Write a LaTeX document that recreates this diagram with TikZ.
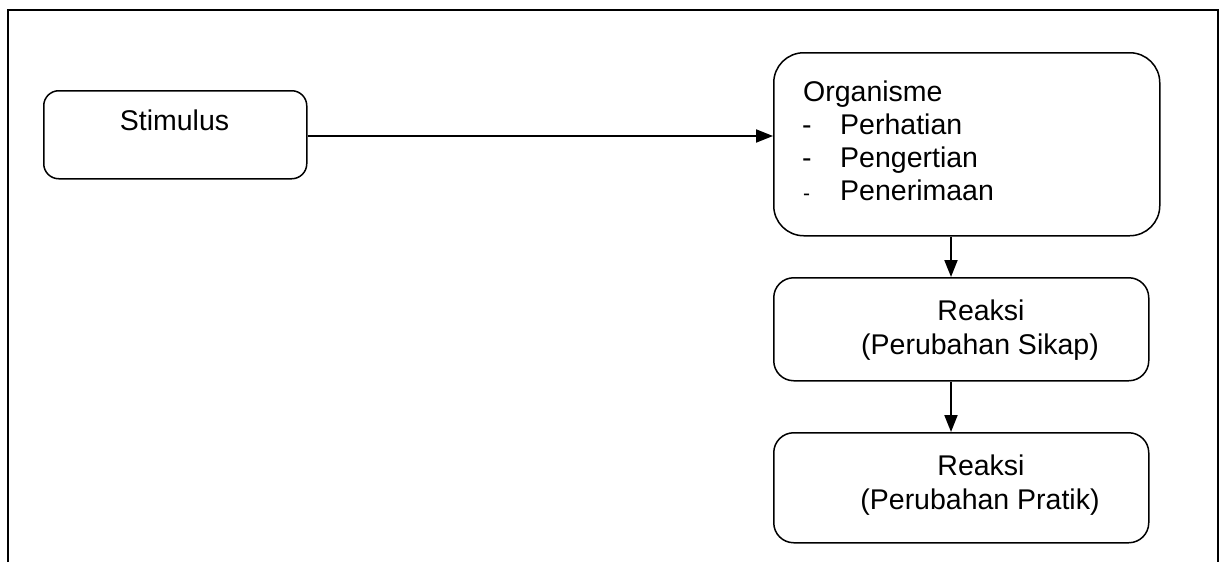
\documentclass[tikz,border=0pt]{standalone}
\usepackage{fontspec}
\setmainfont{Liberation Sans}
\usetikzlibrary{arrows.meta}
\begin{document}
\begin{tikzpicture}[x=1pt,y=-1pt,
  box/.style={draw=black, line width=1.5pt, rounded corners=#1, inner sep=0pt, anchor=north west},
  box/.default=15pt,
  txt/.style={inner sep=0pt, font=\fontsize{28.5}{33}\selectfont},
  conn/.style={line width=2pt, -{Triangle[length=17pt,width=13pt]}}]
\useasboundingbox (0,0) rectangle (1225,562);
% outer frame (open at the bottom)
\draw[line width=2pt] (8,562) -- (8,10) -- (1218,10) -- (1218,562);
% boxes
\node[box=15pt, minimum width=263pt, minimum height=88pt] (stim) at (43,90) {};
\node[box=30pt, minimum width=386pt, minimum height=183pt] (org) at (773,52) {};
\node[box=20pt, minimum width=375pt, minimum height=103pt] (rs) at (773,277) {};
\node[box=20pt, minimum width=375pt, minimum height=110pt] (rp) at (773,432) {};
% texts
\node[txt, anchor=base] (tstim) at (174.5,130) {Stimulus};
\node[txt, anchor=base west] (torg) at (803,101) {Organisme};
\node[txt, anchor=base west] (d1) at (802,134) {-};
\node[txt, anchor=base west] (t1) at (840,134) {Perhatian};
\node[txt, anchor=base west] (d2) at (802,167) {-};
\node[txt, anchor=base west] (t2) at (840,167) {Pengertian};
\node[txt, anchor=base west, font=\fontsize{21}{25}\selectfont] (d3) at (803,200) {-};
\node[txt, anchor=base west] (t3) at (840,200) {Penerimaan};
\node[txt, anchor=base] (rs1) at (981,320) {Reaksi};
\node[txt, anchor=base] (rs2) at (980,354) {(Perubahan Sikap)};
\node[txt, anchor=base] (rp1) at (981,475) {Reaksi};
\node[txt, anchor=base] (rp2) at (980,509) {(Perubahan Pratik)};
% connectors
\draw[conn] (stim.east |- 0,136) -- (org.west |- 0,136);
\draw[conn] (org.south -| 951,0) -- (rs.north -| 951,0);
\draw[conn] (rs.south -| 951,0) -- (rp.north -| 951,0);
\end{tikzpicture}
\end{document}
